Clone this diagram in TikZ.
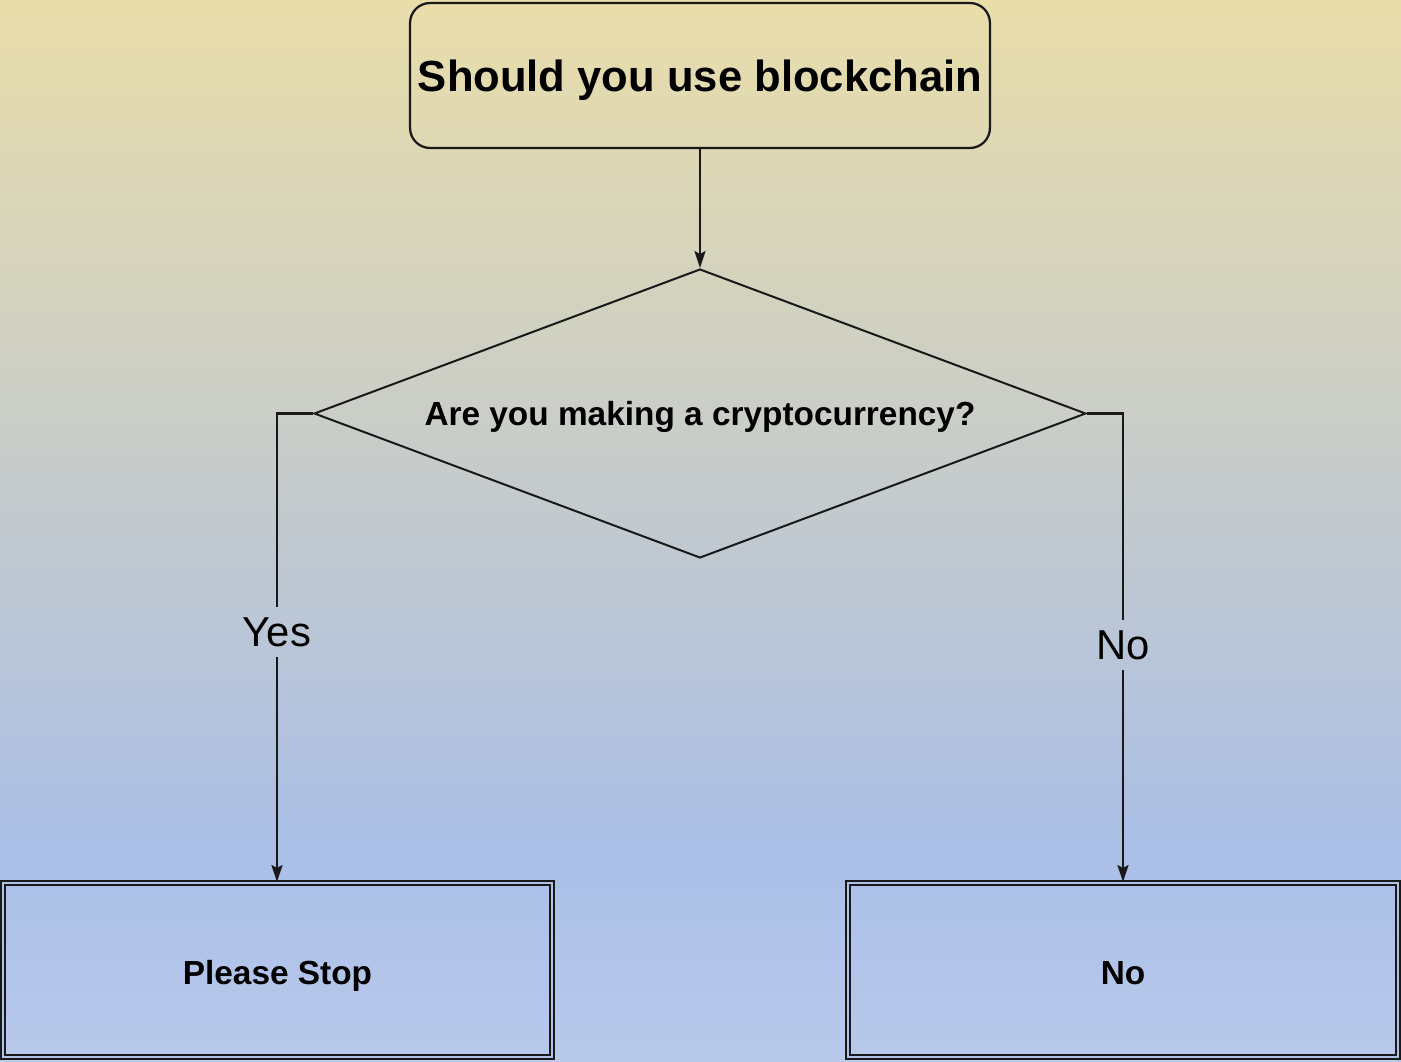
\documentclass[tikz,border=0pt]{standalone}
\usepackage{fontspec}
\setmainfont{Liberation Sans}
\usetikzlibrary{shapes.geometric,arrows.meta}
\definecolor{skytop}{RGB}{233,221,170}
\definecolor{skymid}{RGB}{170,190,230}
\definecolor{skybot}{RGB}{184,201,235}
\definecolor{gapfill}{RGB}{176,194,231}
\begin{document}
\begin{tikzpicture}[x=0.02cm,y=-0.02cm,
  edge/.style={line width=0.045cm, draw=black!90},
  arrowedge/.style={edge, -{Stealth[length=0.34cm,width=0.22cm,inset=0.06cm]}},
  startbox/.style={draw=black!90, line width=0.045cm, rounded corners=0.4cm,
    minimum width=11.6cm, minimum height=2.9cm, inner sep=0pt,
    text height=17.8pt, text depth=0pt,
    font=\bfseries\fontsize{24.8}{28}\selectfont},
  question/.style={draw=black!90, line width=0.04cm, diamond, aspect=2.67,
    minimum width=15.44cm, minimum height=5.78cm, inner sep=0pt,
    text height=13.6pt, text depth=0pt,
    font=\bfseries\fontsize{19}{22}\selectfont},
  endbox/.style={draw=black!90, line width=0.04cm, double=gapfill,
    double distance=0.05cm, minimum height=3.48cm, inner sep=0pt,
    text height=17pt, text depth=0pt,
    font=\bfseries\fontsize{19}{22}\selectfont},
  answer/.style={inner sep=0pt, minimum height=1.0cm,
    font=\fontsize{23.8}{27}\selectfont}]
  \useasboundingbox (0,0) rectangle (1401,1062);
  % background wash
  \shade[top color=skytop, bottom color=skymid] (0,0) rectangle (1401,850);
  \shade[top color=skymid, bottom color=skybot] (0,849) rectangle (1401,1062);

  \node[startbox] (start) at (700,75.5) {Should you use blockchain};
  \node[question] (crypto) at (700,413.5) {Are you making a cryptocurrency?};
  \node[endbox, minimum width=10.98cm] (stop) at (277.5,970) {Please Stop};
  \node[endbox, minimum width=11cm] (no) at (1123,970) {No};

  \node[answer] (yes) at (277,632) {Yes};
  \node[answer] (nolabel) at (1123,645) {No};

  \draw[arrowedge] (start.south) -- (crypto.north);
  \draw[edge] (crypto.west) -| (yes.north);
  \draw[arrowedge] (yes.south) -- (yes.south |- stop.north);
  \draw[edge] (crypto.east) -| (nolabel.north);
  \draw[arrowedge] (nolabel.south) -- (nolabel.south |- no.north);
\end{tikzpicture}
\end{document}
